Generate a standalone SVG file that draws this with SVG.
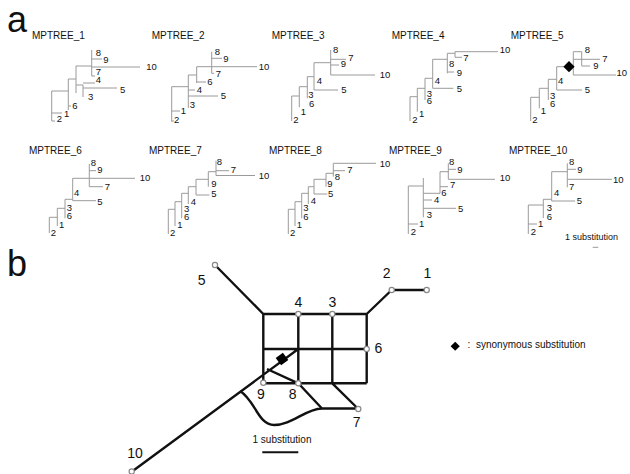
<svg xmlns="http://www.w3.org/2000/svg" width="630" height="474" viewBox="0 0 630 474">
<style>
.t{fill:none;stroke:#9a9a9a;stroke-width:1}
.tl{font-family:"Liberation Sans",Arial,sans-serif;font-size:9.5px;fill:#111;text-anchor:middle}
.ti{font-family:"Liberation Sans",Arial,sans-serif;font-size:10px;fill:#111}
.big{font-family:"Liberation Sans",Arial,sans-serif;font-size:36px;fill:#111}
.e{fill:none;stroke:#111;stroke-width:2.4;stroke-linejoin:round}
.nl{font-family:"Liberation Sans",Arial,sans-serif;font-size:14px;fill:#111;text-anchor:middle}
.nd{fill:#fff;stroke:#888;stroke-width:1.2}
.sm{font-family:"Liberation Sans",Arial,sans-serif;font-size:10px;fill:#111}
</style>
<rect width="630" height="474" fill="#fff"/>
<text class="big" x="7" y="32">a</text>
<text class="big" x="7" y="276">b</text>

<g id="tree1">
<text class="ti" x="32" y="39">MPTREE_1</text>
<path class="t" d="M51.7,91V121M51.7,121H55M51.7,113H62M51.7,91H68.3M68.3,79V110M68.3,106H71M68.3,79H76M76,66V93M76,66H91.7M91.7,50V76M91.7,59H102M91.7,67H140M91.7,76H95M76,85H83M83,85V97M83,88H117M83,83H95"/>
<text class="tl" x="98.3" y="56.1">8</text><text class="tl" x="106" y="62.7">9</text><text class="tl" x="98.3" y="75.1">7</text><text class="tl" x="98.3" y="83.4">4</text><text class="tl" x="122.7" y="93.4">5</text><text class="tl" x="90.7" y="100.1">3</text><text class="tl" x="75" y="109.4">6</text><text class="tl" x="66.7" y="116.7">1</text><text class="tl" x="59.3" y="122.4">2</text><text class="tl" x="151.5" y="70.4">10</text>
</g>

<g id="tree2">
<text class="ti" x="151.7" y="39">MPTREE_2</text>
<path class="t" d="M171.7,86.7V121.7M171.7,121H174M171.7,111H180M171.7,86.7H188.3M188.3,75V108M188.3,90H195M188.3,96H218M188.3,75H196.7M196.7,66.7V83M196.7,82H206M196.7,66.7H211.7M211.7,51.7V73.3M211.7,58.3H222M211.7,66.7H257M211.7,73.3H214"/>
<text class="tl" x="217.3" y="55.1">8</text><text class="tl" x="226" y="61.7">9</text><text class="tl" x="218.3" y="76.7">7</text><text class="tl" x="210" y="85.1">6</text><text class="tl" x="199.3" y="93.4">4</text><text class="tl" x="223.3" y="99.4">5</text><text class="tl" x="192.3" y="108.4">3</text><text class="tl" x="183.3" y="114.1">1</text><text class="tl" x="176.7" y="122.7">2</text><text class="tl" x="264" y="70.4">10</text>
</g>

<g id="tree3">
<text class="ti" x="271.7" y="39">MPTREE_3</text>
<path class="t" d="M291.7,96V121M291.7,96H299.3M299.3,86.7V107.3M299.3,86.7H307.3M307.3,76.7V98.3M307.3,76.7H314M314,62.7V90M314,90H338M314,62.7H330.7M330.7,50V75M330.7,59.3H346M330.7,65H339M330.7,75H375"/>
<text class="tl" x="335.7" y="53.4">8</text><text class="tl" x="351" y="60.7">7</text><text class="tl" x="343.3" y="66.7">9</text><text class="tl" x="319.3" y="84.4">4</text><text class="tl" x="344" y="93.4">5</text><text class="tl" x="311" y="98.4">3</text><text class="tl" x="311.7" y="107.4">6</text><text class="tl" x="303.3" y="115.1">1</text><text class="tl" x="296" y="122.7">2</text><text class="tl" x="385" y="78.4">10</text>
</g>

<g id="tree4">
<text class="ti" x="391.7" y="39">MPTREE_4</text>
<path class="t" d="M410,96.7V121M410,96.7H417.3M417.3,88.3V111.7M417.3,88.3H425M425,78.3V100M425,78.3H432.7M432.7,59.3V88.3M432.7,88.3H453.3M432.7,59.3H447.3M447.3,53.3V73.3M447.3,72H454M447.3,53.3H455M455,51.7V57.3M455,57.3H462M455,51.7H498"/>
<text class="tl" x="466" y="60.7">7</text><text class="tl" x="451.7" y="66.7">8</text><text class="tl" x="459.3" y="75.7">9</text><text class="tl" x="437.3" y="84.4">4</text><text class="tl" x="459.3" y="91.7">5</text><text class="tl" x="429.3" y="96.6">3</text><text class="tl" x="429.3" y="104">6</text><text class="tl" x="421.7" y="116.7">1</text><text class="tl" x="415" y="122.7">2</text><text class="tl" x="505" y="53.4">10</text>
</g>

<g id="tree5">
<text class="ti" x="510.7" y="39">MPTREE_5</text>
<path class="t" d="M530.7,97.3V121M530.7,97.3H539.3M539.3,88.3V108.3M539.3,88.3H548.3M548.3,79.3V100M548.3,79.3H556.7M556.7,66.7V90M556.7,90H582M556.7,66.7H573.3M573.3,51.7V75M573.3,75H616M573.3,59.3H600M573.3,51.7H581.7M581.7,51.7V66M581.7,66H590"/>
<rect x="565" y="62.7" width="8" height="8" fill="#000" transform="rotate(45 569 66.7)"/>
<text class="tl" x="587.3" y="52.7">8</text><text class="tl" x="605" y="61.7">7</text><text class="tl" x="596" y="69.4">9</text><text class="tl" x="621.7" y="76.1">10</text><text class="tl" x="560.7" y="84.4">4</text><text class="tl" x="587.3" y="93.4">5</text><text class="tl" x="552.7" y="99">3</text><text class="tl" x="552.7" y="106.9">6</text><text class="tl" x="543.3" y="114.3">1</text><text class="tl" x="535" y="123.4">2</text>
</g>

<g id="tree6">
<text class="ti" x="29" y="154">MPTREE_6</text>
<path class="t" d="M49.3,217.3V233M49.3,217.3H57.3M57.3,208.3V226M57.3,208.3H65M65,199.3V218.3M65,199.3H72.7M72.7,178.3V200.7M72.7,200.7H96M72.7,178.3H89.3M89.3,164V186.7M89.3,170.7H96M89.3,178.3H135M89.3,186.7H103"/>
<text class="tl" x="93.3" y="166.1">8</text><text class="tl" x="100" y="173.4">9</text><text class="tl" x="145" y="181.4">10</text><text class="tl" x="107.3" y="190.1">7</text><text class="tl" x="76.7" y="196.1">4</text><text class="tl" x="100" y="205.1">5</text><text class="tl" x="69.3" y="211.1">3</text><text class="tl" x="69.3" y="219.4">6</text><text class="tl" x="61.7" y="228.4">1</text><text class="tl" x="53.3" y="236.1">2</text>
</g>

<g id="tree7">
<text class="ti" x="149" y="154">MPTREE_7</text>
<path class="t" d="M168.3,209.3V234M168.3,209.3H175M175,201.7V226M175,201.7H181.7M181.7,193.3V218.3M181.7,193.3H188.3M188.3,186.7V204M188.3,186.7H196M196,179.3V195M196,195H209.3M196,179.3H208.3M208.3,171.7V186.7M208.3,171.7H216M216,160.7V175.5M216,170.7H229M216,175.5H255"/>
<text class="tl" x="219.3" y="165.1">8</text><text class="tl" x="233.3" y="173.4">7</text><text class="tl" x="214" y="186.7">9</text><text class="tl" x="214" y="197.4">5</text><text class="tl" x="193.3" y="205.1">4</text><text class="tl" x="186.7" y="211.7">3</text><text class="tl" x="186.7" y="220.1">6</text><text class="tl" x="180" y="228.4">1</text><text class="tl" x="172.7" y="236.1">2</text><text class="tl" x="264" y="179.4">10</text>
</g>

<g id="tree8">
<text class="ti" x="269" y="154">MPTREE_8</text>
<path class="t" d="M288.3,209.3V234M288.3,209.3H295M295,201.7V226M295,201.7H301.7M301.7,193.3V218.3M301.7,193.3H308.3M308.3,186.7V204M308.3,186.7H314M314,179.3V194M314,194H327.3M314,179.3H326M326,173.3V186.7M326,173.3H333.3M333.3,163.3V176.7M333.3,170.7H345M333.3,163.3H376"/>
<text class="tl" x="350" y="172.7">7</text><text class="tl" x="337.3" y="180.1">8</text><text class="tl" x="330" y="186.7">9</text><text class="tl" x="330.7" y="196.7">5</text><text class="tl" x="313.3" y="204.4">4</text><text class="tl" x="306" y="211.1">3</text><text class="tl" x="306" y="220.1">6</text><text class="tl" x="299.3" y="228.4">1</text><text class="tl" x="292.7" y="236.1">2</text><text class="tl" x="385" y="166.7">10</text>
</g>

<g id="tree9">
<text class="ti" x="389" y="154">MPTREE_9</text>
<path class="t" d="M408.3,186V234M408.3,224H418M408.3,186H423.3M423.3,178V217.3M423.3,208.3H456M423.3,200H432M423.3,193.3H440M440,171.7V193.3M440,186.7H448M440,171.7H448.3M448.3,163.3V179.3M448.3,169.3H456M448.3,179.3H495"/>
<text class="tl" x="451.7" y="165.1">8</text><text class="tl" x="460" y="172.7">9</text><text class="tl" x="505" y="181.4">10</text><text class="tl" x="452.7" y="188.4">7</text><text class="tl" x="444" y="195.7">6</text><text class="tl" x="436.7" y="203.4">4</text><text class="tl" x="460.7" y="211.7">5</text><text class="tl" x="429.3" y="218.4">3</text><text class="tl" x="421.7" y="226.7">1</text><text class="tl" x="413.3" y="235.1">2</text>
</g>

<g id="tree10">
<text class="ti" x="509" y="154">MPTREE_10</text>
<path class="t" d="M528.3,205V234M528.3,224H537M528.3,205H543.3M543.3,199.3V218M543.3,199.3H551.7M551.7,171.7V201M551.7,201H575M551.7,171.7H567.3M567.3,163.3V187.3M567.3,169.3H576M567.3,179.3H612"/>
<text class="tl" x="571.7" y="165.1">8</text><text class="tl" x="580" y="172.7">9</text><text class="tl" x="618.3" y="182.7">10</text><text class="tl" x="571.7" y="190.1">7</text><text class="tl" x="556.7" y="196.1">4</text><text class="tl" x="579.3" y="204.4">5</text><text class="tl" x="549.3" y="211.4">3</text><text class="tl" x="549.3" y="219.6">6</text><text class="tl" x="540.7" y="227">1</text><text class="tl" x="533.3" y="235.3">2</text>
<text class="ti" x="565" y="240" style="font-size:9px">1 substitution</text>
<path class="t" d="M592.7,247.3H598.3"/>
</g>

<g id="connectors">
<path class="e" d="M215,265L263.3,314M263.3,314H366.7M263.3,349H366.7M263.3,383.3H366.7M263.3,314V383.3M298.3,314V383.3M332.3,314V383.3M366.7,314V383.3M366.7,314L391.7,290H426.7M131.7,471.7L298.3,349M267,369L298.3,383.3L322,408.5H358.3M332.3,383.3L358.3,409M240,391C255,400 258,425 274,425C292,425 305,409 322,408.5"/>
<rect x="277.5" y="354.5" width="9" height="9" fill="#000" transform="rotate(53 282 359)"/>
</g>

<g id="n5"><circle class="nd" cx="215" cy="265" r="2.6"/><text class="nl" x="201.7" y="285">5</text></g>
<g id="n4"><circle class="nd" cx="298.3" cy="314" r="2.6"/><text class="nl" x="298.3" y="306.7">4</text></g>
<g id="n3"><circle class="nd" cx="332.3" cy="314" r="2.6"/><text class="nl" x="332.3" y="306.7">3</text></g>
<g id="n2"><circle class="nd" cx="391.7" cy="290" r="2.6"/><text class="nl" x="386.7" y="277.7">2</text></g>
<g id="n1"><circle class="nd" cx="426.7" cy="290" r="2.6"/><text class="nl" x="427.3" y="277.7">1</text></g>
<g id="n6"><circle class="nd" cx="366.7" cy="349" r="2.6"/><text class="nl" x="378.5" y="353.3">6</text></g>
<g id="n9"><circle class="nd" cx="263.3" cy="382.7" r="2.6"/><text class="nl" x="261" y="399">9</text></g>
<g id="n8"><circle class="nd" cx="298.3" cy="383.3" r="2.6"/><text class="nl" x="292.7" y="399">8</text></g>
<g id="n7"><circle class="nd" cx="358.3" cy="409" r="2.6"/><text class="nl" x="356.7" y="426.7">7</text></g>
<g id="n10"><circle class="nd" cx="131.7" cy="471.5" r="2.6"/><text class="nl" x="135" y="458.3">10</text></g>

<g id="scale">
<text class="sm" x="282" y="443" text-anchor="middle">1 substitution</text>
<path d="M262.3,452.3H298.3" stroke="#111" stroke-width="2"/>
</g>

<g id="legend">
<rect x="452" y="343" width="6.5" height="6.5" fill="#000" transform="rotate(45 455.2 346.2)"/>
<text class="sm" x="467.5" y="348">:</text>
<text class="sm" x="476" y="348">synonymous substitution</text>
</g>
</svg>
